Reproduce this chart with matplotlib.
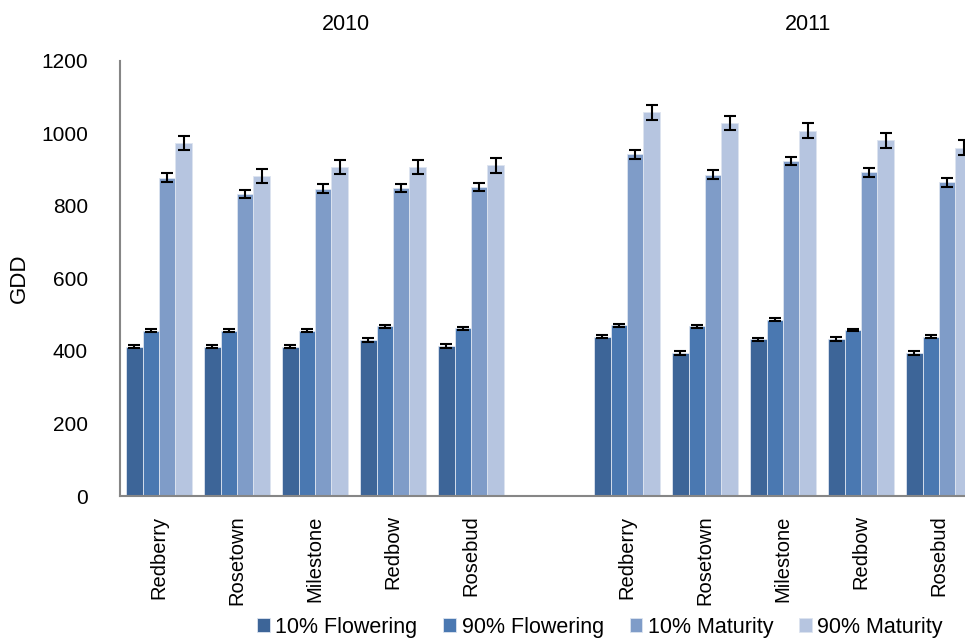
import numpy as np
import matplotlib.pyplot as plt

plt.rcParams['font.family'] = ['Liberation Sans', 'DejaVu Sans']

cultivars = ['Redberry', 'Rosetown', 'Milestone', 'Redbow', 'Rosebud']
years = ['2010', '2011']
series = ['10% Flowering', '90% Flowering', '10% Maturity', '90% Maturity']
colors = ['#3d6598', '#4a78b1', '#7f9cc8', '#b6c5e0']

# GDD values per series, 2010 cultivars then 2011 cultivars
flower10 = [412, 412, 412, 431, 414, 440, 395, 432, 433, 395]
flower90 = [456, 456, 456, 468, 463, 471, 468, 486, 458, 440]
mature10 = [878, 833, 848, 850, 852, 943, 886, 924, 893, 865]
mature90 = [974, 883, 907, 907, 912, 1058, 1029, 1008, 981, 961]

err_f10 = [5, 5, 5, 5, 5, 5, 5, 5, 5, 5]
err_f90 = [4, 4, 4, 4, 4, 4, 4, 4, 4, 4]
err_m10 = [12, 12, 12, 11, 11, 12, 12, 12, 12, 12]
err_m90 = [19, 19, 19, 19, 20, 20, 20, 20, 20, 20]

values = [flower10, flower90, mature10, mature90]
errors = [err_f10, err_f90, err_m10, err_m90]

fig = plt.figure(figsize=(9.65, 6.39), dpi=100)
ax = fig.add_axes([120 / 965, 143 / 639, 858 / 965, 435 / 639])

# 5 slots for 2010, one empty slot, 5 slots for 2011
pos = np.array([0, 1, 2, 3, 4, 6, 7, 8, 9, 10])
labels = cultivars + cultivars
w = 0.21

for i in range(4):
    x = pos + (i - 1.5) * w
    ax.bar(x, values[i], w, color=colors[i], edgecolor='#dde4f0', linewidth=0.6,
           label=series[i], zorder=2)
    ax.errorbar(x, values[i], yerr=errors[i], fmt='none', ecolor='black',
                elinewidth=1.5, capsize=4.3, capthick=1.5, zorder=3)

ax.set_xlim(-0.5, 10.5)
ax.set_ylim(0, 1200)
ax.set_yticks(range(0, 1201, 200))
ax.set_xticks(pos)
ax.set_xticklabels(labels, rotation=90, fontsize=14.5)
ax.tick_params(axis='y', labelsize=15, length=0, pad=23)
ax.tick_params(axis='x', length=0, pad=14)

for s in ['top', 'right']:
    ax.spines[s].set_visible(False)
for s in ['left', 'bottom']:
    ax.spines[s].set_color('#868686')
    ax.spines[s].set_linewidth(1.5)

ax.set_ylabel('GDD', fontsize=16, labelpad=8)

fig.text(346 / 965, 1 - 25 / 639, years[0], ha='center', va='center', fontsize=15.5)
fig.text(808 / 965, 1 - 25 / 639, years[1], ha='center', va='center', fontsize=15.5)

fig.legend(loc='center', bbox_to_anchor=(600 / 965, 1 - 627 / 639), ncol=4,
           frameon=False, fontsize=15.5, handlelength=0.6, handleheight=0.6,
           handletextpad=0.25, columnspacing=1.2)

fig.savefig('out.png', dpi=100)
